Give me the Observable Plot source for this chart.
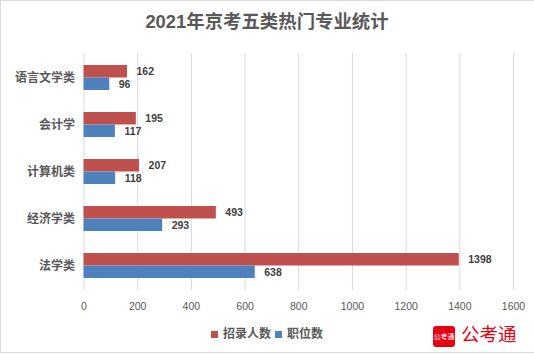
<!DOCTYPE html>
<html>
<head>
<meta charset="utf-8">
<script src="https://cdn.jsdelivr.net/npm/d3@7"></script>
<script src="https://cdn.jsdelivr.net/npm/@observablehq/plot@0.6"></script>
<style>
html,body{margin:0;padding:0;background:#fff;}
#wrap{position:relative;width:534px;height:354px;overflow:hidden;font-family:"Liberation Sans","Noto Sans CJK SC",sans-serif;}
#frame{position:absolute;left:0;top:0;width:534px;height:353px;box-sizing:border-box;border:solid #d9d9d9;border-width:1px 0 1px 1px;pointer-events:none;}
#wrap svg{position:absolute;left:0;top:0;}
.t{position:absolute;white-space:nowrap;line-height:1;}
#title{left:0;width:534px;top:13px;text-align:center;font-size:18.4px;font-weight:bold;color:#595959;}
.lg{top:328px;font-size:12px;font-weight:bold;color:#595959;}
.sw{position:absolute;width:7px;height:7px;top:331px;}
#badge{position:absolute;left:433px;top:326px;width:22px;height:21px;border-radius:3px;background:#e60012;color:#fff;font-size:7px;line-height:21px;text-align:center;}
#brand{left:461px;top:326px;font-size:18.5px;color:#e60012;}
</style>
</head>
<body>
<div id="wrap">
<div id="title" class="t">2021年京考五类热门专业统计</div>
<div class="sw" style="left:211px;background:#c0504d"></div>
<div class="t lg" style="left:223px">招录人数</div>
<div class="sw" style="left:275px;background:#4f81bd"></div>
<div class="t lg" style="left:287px">职位数</div>
<div id="badge">公考通</div>
<div id="brand" class="t">公考通</div>
<div id="frame"></div>
</div>
<script>
const categories = ["语言文学类","会计学","计算机类","经济学类","法学类"];
const recruits = [162,195,207,493,1398];
const positions = [96,117,118,293,638];
const xTicks = [0,200,400,600,800,1000,1200,1400,1600];
const recruitRows = categories.map((c,i)=>({c,v:recruits[i]}));
const positionRows = categories.map((c,i)=>({c,v:positions[i]}));
const half = 12.5;
const font = `"Liberation Sans","Noto Sans CJK SC",sans-serif`;
const chart = Plot.plot({
  width:534,height:354,
  marginLeft:83.5,marginRight:21,marginTop:53,marginBottom:64,
  style:{fontFamily:font,background:"transparent",overflow:"visible"},
  x:{domain:[0,1600],label:null},
  y:{domain:categories,paddingInner:0.474,paddingOuter:0.237,label:null},
  marks:[
    Plot.ruleX(xTicks,{stroke:"#d9d9d9",strokeWidth:1}),
    Plot.axisX({ticks:xTicks,tickFormat:d=>String(d),tickSize:0,tickPadding:12,fontSize:10.5,color:"#595959",label:null}),
    Plot.axisY({tickSize:0,tickPadding:9,fontSize:12,fontWeight:"bold",color:"#595959",label:null}),
    Plot.barX(recruitRows,{x:"v",y:"c",fill:"#c0504d",insetBottom:half}),
    Plot.barX(positionRows,{x:"v",y:"c",fill:"#4f81bd",insetTop:half}),
    Plot.text(recruitRows,{x:"v",y:"c",text:d=>String(d.v),dx:9,dy:-half/2,textAnchor:"start",fontSize:10.5,fontWeight:"bold",fill:"#404040"}),
    Plot.text(positionRows,{x:"v",y:"c",text:d=>String(d.v),dx:9,dy:half/2,textAnchor:"start",fontSize:10.5,fontWeight:"bold",fill:"#404040"})
  ]
});
document.getElementById("wrap").insertBefore(chart,document.getElementById("wrap").firstChild);
</script>
</body>
</html>
